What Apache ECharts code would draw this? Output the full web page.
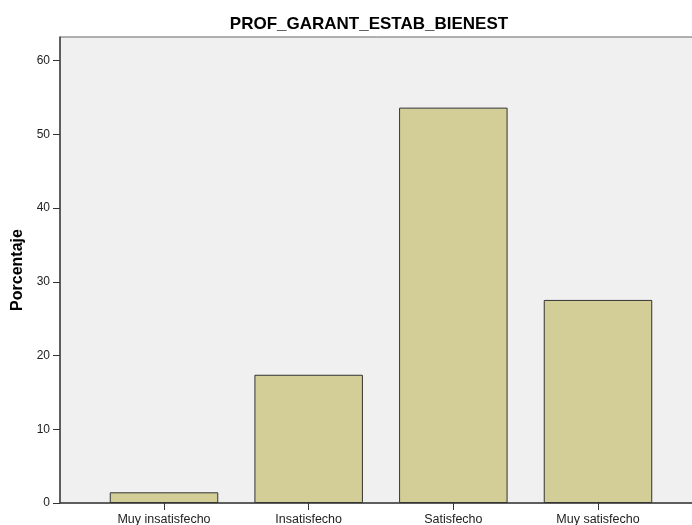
<!DOCTYPE html>
<html>
<head>
<meta charset="utf-8">
<script src="https://cdn.jsdelivr.net/npm/echarts@6/dist/echarts.min.js"></script>
<style>
  html, body { margin: 0; padding: 0; background: #fff; }
  #chart { width: 692px; height: 525px; }
</style>
</head>
<body>
<div id="chart"></div>
<script>
var chartTitle = 'PROF_GARANT_ESTAB_BIENEST';
var categories = ['Muy insatisfecho', 'Insatisfecho', 'Satisfecho', 'Muy satisfecho'];
var percentages = [1.45, 17.39, 53.62, 27.54];
var yName = 'Porcentaje';
var yMin = 0, yMax = 63.2, yStep = 10;

var font = "'Liberation Sans', Arial, sans-serif";
var chart = echarts.init(document.getElementById('chart'));

chart.setOption({
    animation: false,
    title: {
        text: chartTitle,
        left: 364,
        top: 11,
        textAlign: 'center',
        textStyle: {fontFamily: font, fontSize: 17, fontWeight: 'bold', color: '#000'}
    },
    grid: [
        // frame / backdrop
        {left: 60, top: 37, width: 640, bottom: 22, show: true, outerBoundsMode: 'none',
            backgroundColor: '#f0f0f0', borderColor: '#666', borderWidth: 1},
        // bars
        {left: 91.67, right: 21.67, top: 37, bottom: 22, outerBoundsMode: 'none'}
    ],
    xAxis: [
        {gridIndex: 0, type: 'value', min: 0, max: 1,
            axisLine: {show: true, lineStyle: {color: '#444', width: 1.5}},
            axisTick: {show: false}, axisLabel: {show: false}, splitLine: {show: false}},
        {gridIndex: 1, type: 'category', data: categories,
            axisLine: {show: false},
            axisTick: {show: true, alignWithLabel: true, length: 7, lineStyle: {color: '#333'}},
            axisLabel: {margin: 10, fontFamily: font, fontSize: 12.5, color: '#222'}}
    ],
    yAxis: [
        {gridIndex: 0, type: 'value', min: yMin, max: yMax, interval: yStep,
            name: yName, nameLocation: 'middle', nameGap: 24,
            nameTextStyle: {fontFamily: font, fontSize: 16, fontWeight: 'bold', color: '#000'},
            axisLine: {show: true, lineStyle: {color: '#444', width: 1.5}},
            axisTick: {show: true, length: 7, lineStyle: {color: '#333'}},
            axisLabel: {margin: 10, showMaxLabel: false, fontFamily: font, fontSize: 12, color: '#222'},
            splitLine: {show: false}},
        {gridIndex: 1, type: 'value', min: yMin, max: yMax, interval: yStep, show: false}
    ],
    series: [{
        type: 'bar',
        xAxisIndex: 1,
        yAxisIndex: 1,
        data: percentages,
        barWidth: '75%',
        itemStyle: {color: '#d3ce97', borderColor: '#333', borderWidth: 1}
    }]
});
</script>
</body>
</html>
